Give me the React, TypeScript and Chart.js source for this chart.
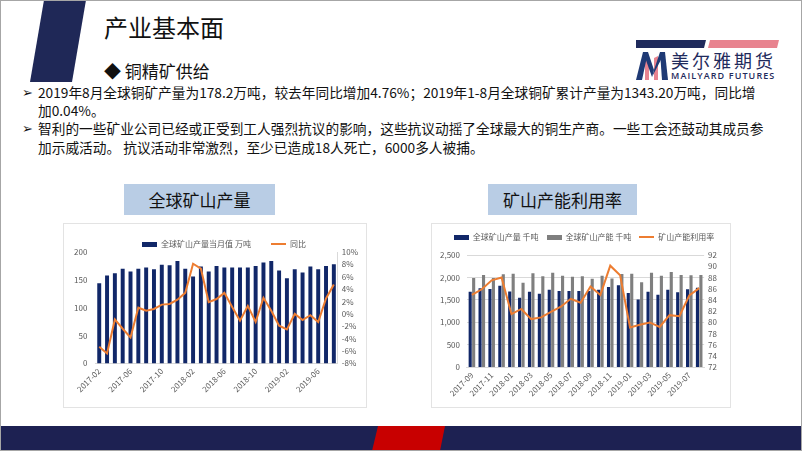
import React, { useEffect, useRef } from "react";
import { Chart, registerables } from "chart.js";
Chart.register(...registerables);

const FONT = "'Noto Sans CJK SC', 'Noto Sans', sans-serif";

// ---- Chart 1: 全球矿山产量 ----
const months1 = [
  "2017-02", "2017-03", "2017-04", "2017-05", "2017-06", "2017-07", "2017-08", "2017-09",
  "2017-10", "2017-11", "2017-12", "2018-01", "2018-02", "2018-03", "2018-04", "2018-05",
  "2018-06", "2018-07", "2018-08", "2018-09", "2018-10", "2018-11", "2018-12", "2019-01",
  "2019-02", "2019-03", "2019-04", "2019-05", "2019-06", "2019-07", "2019-08",
];
const output1 = [
  144, 158, 162, 170, 165, 170, 172, 169, 177, 176, 184, 170, 156, 174, 165, 175,
  172, 172, 172, 172, 175, 181, 184, 167, 153, 169, 163, 174, 169, 175, 178.2,
];
const yoy1 = [
  -5.3, -6.4, -0.9, -2.4, -3.8, 1.0, 0.5, 0.8, 1.5, 1.6, 2.3, 3.4, 8.1, 7.3, 1.9, 2.4,
  3.4, 1.1, -1.1, 1.3, -1.3, 2.6, 0.5, -1.9, -2.5, 0.0, -1.0, -0.2, -1.3, 2.5, 4.76,
];

// ---- Chart 2: 矿山产能利用率 ----
const months2 = [
  "2017-09", "2017-10", "2017-11", "2017-12", "2018-01", "2018-02", "2018-03", "2018-04",
  "2018-05", "2018-06", "2018-07", "2018-08", "2018-09", "2018-10", "2018-11", "2018-12",
  "2019-01", "2019-02", "2019-03", "2019-04", "2019-05", "2019-06", "2019-07", "2019-08",
];
const output2 = [
  1684, 1758, 1743, 1817, 1691, 1550, 1684, 1640, 1728, 1699, 1699, 1699,
  1699, 1728, 1788, 1825, 1654, 1513, 1684, 1617, 1728, 1669, 1736, 1773,
];
const capacity2 = [
  1988, 2055, 1990, 2070, 2085, 1884, 2092, 2025, 2107, 2040, 2018, 2025,
  1973, 2040, 1980, 2077, 2085, 1892, 2107, 2040, 2122, 2055, 2048, 2055,
];
const utilization2 = [
  84.9, 85.9, 87.5, 88.0, 81.5, 82.4, 80.6, 80.9, 81.9, 82.8, 84.2, 83.5,
  86.4, 84.9, 90.1, 88.4, 79.1, 79.6, 80.0, 79.2, 81.3, 81.1, 84.8, 86.1,
];

const NAVY = "#112768";
const GREY = "#7f7f7f";
const ORANGE = "#ed7d31";
const TICK = "#595959";

function swatch(color: string, w: number, h: number) {
  const c = document.createElement("canvas");
  c.width = w;
  c.height = h;
  const x = c.getContext("2d")!;
  x.fillStyle = color;
  x.fillRect(0, 0, w, h);
  return c;
}

function legendTweak(h: number, dx: number) {
  return {
    id: "legendTweak",
    beforeInit(chart: any) {
      const orig = chart.legend.fit;
      chart.legend.fit = function () {
        orig.call(this);
        this.height = h;
      };
    },
    afterLayout(chart: any) {
      chart.legend.left += dx;
      chart.legend.right += dx;
    },
  };
}

function legendLabels(sw: HTMLCanvasElement[], padding: number) {
  return {
    usePointStyle: true,
    pointStyleWidth: 15,
    boxHeight: 8,
    padding,
    color: TICK,
    font: { size: 8, family: FONT },
    sort: (a: any, b: any) => a.datasetIndex - b.datasetIndex,
    generateLabels: (c: any) => {
      const items = (Chart.defaults.plugins.legend.labels as any).generateLabels(c);
      items.forEach((it: any) => (it.pointStyle = sw[it.datasetIndex]));
      return items;
    },
  };
}

const tickFont = { size: 8, family: FONT };

function ChartOne() {
  const ref = useRef<HTMLCanvasElement>(null);
  useEffect(() => {
    const sw = [swatch(NAVY, 15, 5), swatch(ORANGE, 15, 2)];
    const chart = new Chart(ref.current!, {
      type: "bar",
      data: {
        labels: months1,
        datasets: [
          {
            type: "bar",
            label: "全球矿山产量当月值 万吨",
            data: output1,
            backgroundColor: NAVY,
            yAxisID: "y",
            categoryPercentage: 0.55,
            barPercentage: 0.92,
            order: 2,
          },
          {
            type: "line",
            label: "同比",
            data: yoy1,
            borderColor: ORANGE,
            backgroundColor: ORANGE,
            borderWidth: 2,
            pointRadius: 0,
            tension: 0,
            yAxisID: "y1",
            order: 1,
          },
        ] as any,
      },
      options: {
        responsive: false,
        animation: false,
        maintainAspectRatio: false,
        layout: { padding: { left: 3, right: 5, top: -3, bottom: 11 } },
        plugins: {
          tooltip: { enabled: false },
          legend: { position: "top", labels: legendLabels(sw, 20) },
        },
        scales: {
          x: {
            grid: { display: false, drawTicks: false },
            border: { color: "#d9d9d9" },
            ticks: {
              autoSkip: false,
              maxRotation: 45,
              minRotation: 45,
              padding: 3,
              color: TICK,
              font: tickFont,
              callback: (_v: any, i: number) => (i % 4 === 0 ? months1[i] : ""),
            },
          },
          y: {
            position: "left",
            min: 0,
            max: 200,
            grid: { display: false, drawTicks: false },
            border: { display: false },
            ticks: { stepSize: 50, autoSkip: false, padding: 8, color: TICK, font: tickFont },
          },
          y1: {
            position: "right",
            min: -8,
            max: 10,
            grid: { display: false, drawTicks: false },
            border: { color: "#d9d9d9" },
            ticks: {
              stepSize: 2,
              autoSkip: false,
              padding: 4,
              color: TICK,
              font: tickFont,
              callback: (v: any) => v + "%",
            },
          },
        },
      } as any,
      plugins: [legendTweak(32, 10)],
    });
    return () => chart.destroy();
  }, []);
  return <canvas ref={ref} width={304} height={185} style={{ position: "absolute", left: 62, top: 222 }} />;
}

function ChartTwo() {
  const ref = useRef<HTMLCanvasElement>(null);
  useEffect(() => {
    const sw = [swatch(NAVY, 15, 5), swatch(GREY, 15, 5), swatch(ORANGE, 15, 2)];
    const chart = new Chart(ref.current!, {
      type: "bar",
      data: {
        labels: months2,
        datasets: [
          {
            type: "bar",
            label: "全球矿山产量 千吨",
            data: output2,
            backgroundColor: NAVY,
            yAxisID: "y",
            categoryPercentage: 0.7,
            barPercentage: 0.9,
            order: 2,
          },
          {
            type: "bar",
            label: "全球矿山产能 千吨",
            data: capacity2,
            backgroundColor: GREY,
            yAxisID: "y",
            categoryPercentage: 0.7,
            barPercentage: 0.9,
            order: 3,
          },
          {
            type: "line",
            label: "矿山产能利用率",
            data: utilization2,
            borderColor: ORANGE,
            backgroundColor: ORANGE,
            borderWidth: 2,
            pointRadius: 0,
            tension: 0,
            yAxisID: "y1",
            order: 1,
          },
        ] as any,
      },
      options: {
        responsive: false,
        animation: false,
        maintainAspectRatio: false,
        layout: { padding: { left: 2, right: 10, top: 2, bottom: 7 } },
        plugins: {
          tooltip: { enabled: false },
          legend: { position: "top", labels: legendLabels(sw, 8) },
        },
        scales: {
          x: {
            grid: { display: false, drawTicks: false },
            border: { color: "#d9d9d9" },
            ticks: {
              autoSkip: false,
              maxRotation: 45,
              minRotation: 45,
              padding: 3,
              color: TICK,
              font: tickFont,
              callback: (_v: any, i: number) => (i % 2 === 0 ? months2[i] : ""),
            },
          },
          y: {
            position: "left",
            min: 0,
            max: 2500,
            grid: { color: "#d9d9d9", drawTicks: false },
            border: { display: false },
            ticks: {
              stepSize: 500,
              autoSkip: false,
              padding: 7,
              color: TICK,
              font: tickFont,
              callback: (v: any) => Number(v).toLocaleString("en-US"),
            },
          },
          y1: {
            position: "right",
            min: 72,
            max: 92,
            grid: { display: false, drawTicks: false },
            border: { display: false },
            ticks: { stepSize: 2, autoSkip: false, padding: 4, color: TICK, font: tickFont },
          },
        },
      } as any,
      plugins: [legendTweak(30, 7)],
    });
    return () => chart.destroy();
  }, []);
  return <canvas ref={ref} width={300} height={185} style={{ position: "absolute", left: 430, top: 222 }} />;
}

const abs = (l: number, t: number, extra: React.CSSProperties = {}): React.CSSProperties => ({
  position: "absolute",
  left: l,
  top: t,
  whiteSpace: "nowrap",
  lineHeight: 1,
  fontFamily: FONT,
  ...extra,
});

const titleBox: React.CSSProperties = {
  height: 31,
  background: "#b9cde5",
  fontSize: 17,
  display: "flex",
  alignItems: "center",
  justifyContent: "center",
};

export default function App() {
  return (
    <div
      style={{
        position: "absolute",
        left: 0,
        top: 0,
        width: 802,
        height: 451,
        overflow: "hidden",
        background: "#fff",
        boxSizing: "border-box",
        border: "1px solid #a6a6a6",
        fontFamily: FONT,
        color: "#111",
      }}
    >
      <svg width={802} height={451} style={{ position: "absolute", left: -1, top: -1 }}>
        <polygon points="44,0 86,0 72,82 30,82" fill="#1f2857" />
        <rect x={0} y={426} width={802} height={25} fill="#1d2152" />
        <polygon points="378,426 445,426 440,451 372,451" fill="#c80000" />
        {/* logo */}
        <polygon points="636,40 706,40 704,48 636,48" fill="#1f2a5c" />
        <polygon points="710,40 779,40 777,48 708,48" fill="#e8838f" />
        <polygon points="645,58 649,56 649,80 645,80" fill="#e8838f" />
        <polygon points="654,58 658,56 658,80 654,80" fill="#e8838f" />
        <polygon points="636,80 642,80 648,52 643,52" fill="#1f3a75" />
        <polygon points="643,52 648,52 654,70 652,77" fill="#1f3a75" />
        <polygon points="652,77 654,70 660,52 665,52" fill="#1f3a75" />
        <polygon points="660,52 665,52 668,80 662,80" fill="#1f3a75" />
      </svg>

      <div style={abs(103, 14, { fontSize: 24, color: "#111" })}>产业基本面</div>
      <div style={abs(103, 61, { fontSize: 17 })}>◆ 铜精矿供给</div>

      <div style={abs(670, 50, { fontSize: 18, letterSpacing: 3, color: "#1f2a5c" })}>美尔雅期货</div>
      <div
        style={abs(670, 70, {
          fontSize: 9,
          color: "#1f2a5c",
          fontFamily: "'Open Sans', sans-serif",
          fontWeight: 600,
          letterSpacing: 1.1,
        })}
      >
        MAILYARD FUTURES
      </div>

      <div style={abs(21, 85, { fontSize: 13, fontFamily: "'DejaVu Sans', sans-serif" })}>➢</div>
      <div style={abs(37, 85, { fontSize: 13.7 })}>
        2019年8月全球铜矿产量为178.2万吨，较去年同比增加4.76%；2019年1-8月全球铜矿累计产量为1343.20万吨，同比增
      </div>
      <div style={abs(37, 103, { fontSize: 13.7 })}>加0.04%。</div>
      <div style={abs(21, 121, { fontSize: 13, fontFamily: "'DejaVu Sans', sans-serif" })}>➢</div>
      <div style={abs(37, 121, { fontSize: 13.7 })}>
        智利的一些矿业公司已经或正受到工人强烈抗议的影响，这些抗议动摇了全球最大的铜生产商。一些工会还鼓动其成员参
      </div>
      <div style={abs(37, 140, { fontSize: 13.7 })}>加示威活动。 抗议活动非常激烈，至少已造成18人死亡，6000多人被捕。</div>

      <div style={abs(123, 183, { ...titleBox, width: 151 })}>全球矿山产量</div>
      <div style={abs(487, 183, { ...titleBox, width: 149 })}>矿山产能利用率</div>

      <div style={abs(62, 222, { width: 304, height: 185, boxSizing: "border-box", border: "1px solid #e3e3e3" })} />
      <div style={abs(430, 222, { width: 300, height: 185, boxSizing: "border-box", border: "1px solid #e3e3e3" })} />
      <ChartOne />
      <ChartTwo />
    </div>
  );
}
